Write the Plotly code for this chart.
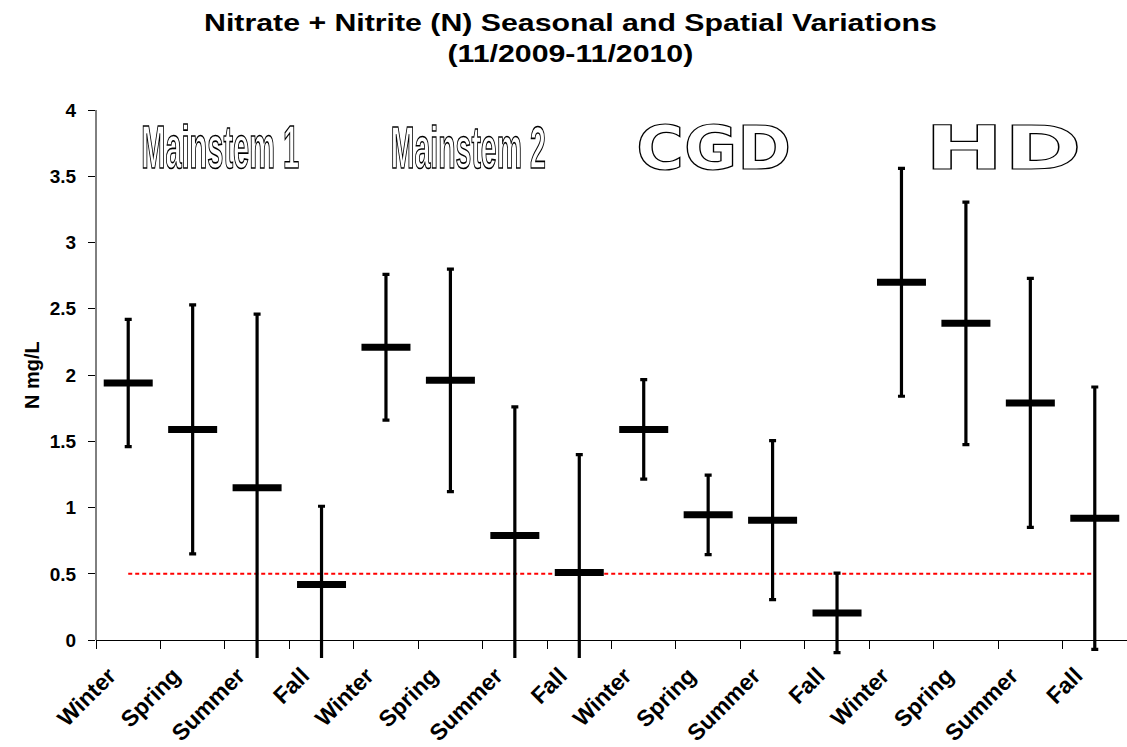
import json
import numpy as np
import plotly.graph_objects as go

# Seasonal nitrate + nitrite (as N) summary: mean and +/- spread per season and site
seasons = ["Winter", "Spring", "Summer", "Fall"] * 4
sites = ["Mainstem 1", "Mainstem 2", "CGD", "HD"]
mean_n = [1.94, 1.59, 1.15, 0.42,
          2.21, 1.96, 0.79, 0.51,
          1.59, 0.945, 0.905, 0.205,
          2.70, 2.39, 1.79, 0.92]
spread_n = [0.48, 0.94, 1.31, 0.59,
            0.55, 0.84, 0.97, 0.89,
            0.375, 0.30, 0.60, 0.30,
            0.86, 0.915, 0.94, 0.99]
reference_level = [0.5] * 16
y_ticks = [0, 0.5, 1, 1.5, 2, 2.5, 3, 3.5, 4]

x = np.arange(len(seasons))
FONT = "Arial, Liberation Sans, sans-serif"

W, H = 1127, 747
M_L, M_R, M_T, M_B = 96, 0, 110, 89
PLOT_W = W - M_L - M_R
PLOT_H = H - M_T - M_B
Y_MIN, Y_MAX = -0.135, 4.0
zero_pos = (0 - Y_MIN) / (Y_MAX - Y_MIN)

fig = go.Figure()

# 0.5 mg/L reference line
fig.add_trace(go.Scatter(
    x=x, y=reference_level, mode="lines",
    line=dict(color="#FF0000", width=2, dash="4px,3px"),
    hoverinfo="skip", showlegend=False,
))

# seasonal means with spread whiskers
fig.add_trace(go.Scatter(
    x=x, y=mean_n, mode="markers",
    marker=dict(symbol="line-ew", size=35,
                line=dict(color="black", width=7)),
    error_y=dict(type="data", array=spread_n, visible=True,
                 color="black", thickness=3.2, width=3.5),
    cliponaxis=True, showlegend=False,
))

# y-axis line spanning 0..4 only
fig.add_shape(type="line", xref="x domain", yref="y",
              x0=0, x1=0, y0=0, y1=4,
              line=dict(color="black", width=1))

# per-annotation post-render shaping: [target width px, vertical scale, outlined]
shaping = []

# outlined site labels
label_pos = {"Mainstem 1": 1.43, "Mainstem 2": 5.28, "CGD": 9.09, "HD": 13.59}
label_font = {
    "Mainstem 1": (FONT, 28),
    "Mainstem 2": (FONT, 28),
    "CGD": ("DejaVu Sans, Arial, sans-serif", 40),
    "HD": ("DejaVu Sans, Arial, sans-serif", 40),
}
label_box = {"Mainstem 1": (158, 44), "Mainstem 2": (155, 43),
             "CGD": (155, 43), "HD": (157, 44)}
for name in sites:
    fam, size = label_font[name]
    fig.add_annotation(
        x=label_pos[name], y=3.717, xref="x", yref="y",
        text=name, showarrow=False, xanchor="center", yanchor="middle",
        font=dict(family=fam, size=size, color="white", weight="bold"),
    )
    bw, bh = label_box[name]
    shaping.append([bw, bh / (0.72 * size), True])

# axis title
fig.add_annotation(
    x=-(96 - 19) / PLOT_W, y=2.0, xref="paper", yref="y",
    text="<b>N mg/L</b>", textangle=-90, showarrow=False,
    font=dict(family=FONT, size=20, color="black"),
)
shaping.append(None)

# chart title
fig.add_annotation(
    x=(570 - M_L) / PLOT_W, y=1 + (M_T - 7) / PLOT_H,
    xref="paper", yref="paper", xanchor="center", yanchor="top",
    text="<b>Nitrate + Nitrite (N) Seasonal and Spatial Variations<br>(11/2009-11/2010)</b>",
    showarrow=False, align="center",
    font=dict(family=FONT, size=24, color="black"),
)
shaping.append([733, 1.0, False])

fig.update_layout(
    width=W, height=H,
    margin=dict(l=M_L, r=M_R, t=M_T, b=M_B, autoexpand=False),
    paper_bgcolor="white", plot_bgcolor="white",
    showlegend=False,
)

fig.update_xaxes(
    range=[-0.5, 15.5], tickmode="array", tickvals=x, ticktext=seasons,
    ticks="", tickangle=-45, showgrid=False, zeroline=False,
    showline=True, linecolor="black", linewidth=1,
    anchor="free", position=zero_pos, automargin=False,
    ticklabelshift=-19, ticklabelstandoff=12,
    tickfont=dict(family=FONT, size=23, color="black", weight="bold"),
    minor=dict(tickmode="array", tickvals=np.arange(-0.5, 16, 1.0),
               ticks="outside", ticklen=8, tickcolor="black", tickwidth=1,
               showgrid=False),
)
fig.update_yaxes(
    range=[Y_MIN, Y_MAX], tickmode="array", tickvals=y_ticks,
    ticks="outside", ticklen=7, tickcolor="black", tickwidth=1,
    showgrid=False, zeroline=False, showline=False, automargin=False,
    ticklabelstandoff=8,
    tickfont=dict(family=FONT, size=19, color="black", weight="bold"),
)

post = """
var gd = document.getElementById('{plot_id}');
var SHAPE = %s;
var NS = 'http://www.w3.org/2000/svg';
function ensureGrayFilter() {
  var svg = gd.querySelector('svg.main-svg');
  if (!svg || svg.querySelector('#label-gray')) return;
  var defs = svg.querySelector('defs') || svg.insertBefore(document.createElementNS(NS, 'defs'), svg.firstChild);
  var f = document.createElementNS(NS, 'filter');
  f.setAttribute('id', 'label-gray');
  f.setAttribute('x', '-10%%'); f.setAttribute('y', '-10%%');
  f.setAttribute('width', '120%%'); f.setAttribute('height', '120%%');
  var m = document.createElementNS(NS, 'feColorMatrix');
  m.setAttribute('type', 'saturate');
  m.setAttribute('values', '0');
  f.appendChild(m);
  defs.appendChild(f);
}
function shapeAnnotations() {
  ensureGrayFilter();
  gd.querySelectorAll('g.annotation').forEach(function(g) {
    var spec = SHAPE[+g.getAttribute('data-index')];
    var t = g.querySelector('text.annotation-text');
    if (!spec || !t || t.getAttribute('data-shaped')) return;
    var b = t.getBBox();
    var sx = spec[0] / b.width, sy = spec[1];
    var cx = b.x + b.width / 2, cy = b.y + b.height / 2;
    t.setAttribute('transform', 'translate(' + cx + ',' + cy + ') scale(' + sx + ',' + sy + ') translate(' + (-cx) + ',' + (-cy) + ')');
    if (spec[2]) {
      t.style.fill = '#fff';
      t.style.stroke = '#000';
      t.style.strokeWidth = '1.3px';
      t.setAttribute('vector-effect', 'non-scaling-stroke');
      g.setAttribute('filter', 'url(#label-gray)');
    }
    t.setAttribute('data-shaped', '1');
  });
}
shapeAnnotations();
gd.on('plotly_afterplot', shapeAnnotations);
""" % json.dumps(shaping)

fig.write_html("out.html", post_script=post)
